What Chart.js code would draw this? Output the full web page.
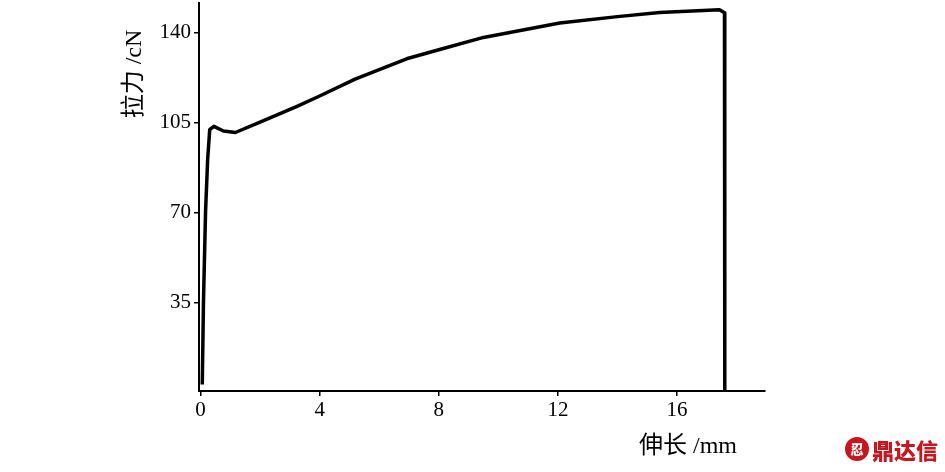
<!DOCTYPE html>
<html>
<head>
<meta charset="utf-8">
<script src="https://cdn.jsdelivr.net/npm/chart.js@4"></script>
<style>
  html, body { margin: 0; padding: 0; background: #fff; }
  #wrap { position: relative; width: 945px; height: 472px; }
  #logo { position: absolute; left: 845px; top: 434px; height: 30px; display: flex; align-items: center;
          font-family: "Noto Sans CJK SC", sans-serif; font-weight: 900; font-size: 22px; color: #c8161e; }
  #logo .dot { width: 24px; height: 24px; border-radius: 50%; background: #c8161e; margin-right: 3px;
               color: #fff; font-size: 13px; line-height: 24px; text-align: center; }
</style>
</head>
<body>
<div id="wrap">
  <canvas id="chart_one" width="945" height="472"></canvas>
  <div id="logo"><span class="dot">忍</span>鼎达信</div>
</div>
<script>
// elongation (mm) and tensile force (cN)
let elongation = [0.06, 0.1, 0.17, 0.24, 0.31, 0.45, 0.77, 1.17, 2.0, 3.24, 4.0, 5.19, 6.92, 8.0, 9.5, 12.06, 14.0, 15.41, 17.42, 17.59, 17.6];
let force = [3.1, 35.1, 70.4, 90.6, 102.3, 103.6, 101.8, 101.2, 105.2, 111.4, 115.4, 122.0, 129.9, 133.4, 138.2, 143.8, 146.3, 147.9, 149.0, 147.8, 0.5];

const xTicks = [0, 4, 8, 12, 16];
const yTicks = [35, 70, 105, 140];
const xTitle = "伸长 /mm";
const yTitle = "拉力 /cN";

let points = [];
for(let i = 0; i < elongation.length; i++){
    points.push({ x: elongation[i], y: force[i] });
}

const tickFont = { family: "'Liberation Serif', serif", size: 21 };

// axis titles sit off-centre in the original, so draw them by hand
const axisTitles = {
    id: "axisTitles",
    afterDraw(chart) {
        const ctx = chart.ctx;
        ctx.save();
        ctx.fillStyle = "#000";
        ctx.font = "24px 'Liberation Serif', 'Noto Sans CJK SC', serif";
        ctx.textAlign = "center";
        ctx.textBaseline = "middle";
        ctx.fillText(xTitle, 688, 447);
        ctx.translate(135, 74);
        ctx.rotate(-Math.PI / 2);
        ctx.fillText(yTitle, 0, 0);
        ctx.restore();
    }
};

var ChartOne = new Chart("chart_one", {
    type: "scatter",
    data: {
        datasets: [{
            data: points,
            showLine: true,
            borderColor: "#000",
            borderWidth: 3.5,
            pointRadius: 0,
            tension: 0,
            borderJoinStyle: "round"
        }]
    },
    options: {
        responsive: false,
        animation: false,
        layout: { padding: { top: 3, right: 180, left: 0, bottom: 0 } },
        plugins: {
            legend: { display: false },
            tooltip: { enabled: false }
        },
        scales: {
            x: {
                type: "linear",
                min: -0.05,
                max: 18.95,
                afterBuildTicks: s => { s.ticks = xTicks.map(v => ({ value: v })); },
                afterFit: s => { s.height = 81; s.paddingLeft = 0; s.paddingRight = 0; },
                border: { color: "#000", width: 2 },
                grid: { drawOnChartArea: false, drawTicks: true, tickLength: 5, color: "#000", lineWidth: 1.5 },
                ticks: { color: "#000", font: tickFont, padding: 2, maxRotation: 0 }
            },
            y: {
                type: "linear",
                min: 0.6,
                max: 151.6,
                afterBuildTicks: s => { s.ticks = yTicks.map(v => ({ value: v })); },
                afterFit: s => { s.width = 199; s.paddingTop = 0; s.paddingBottom = 0; },
                border: { color: "#000", width: 2 },
                grid: { drawOnChartArea: false, drawTicks: true, tickLength: 5, color: "#000", lineWidth: 1.5 },
                ticks: { color: "#000", font: tickFont, padding: 3 }
            }
        }
    },
    plugins: [axisTitles]
});
</script>
</body>
</html>
